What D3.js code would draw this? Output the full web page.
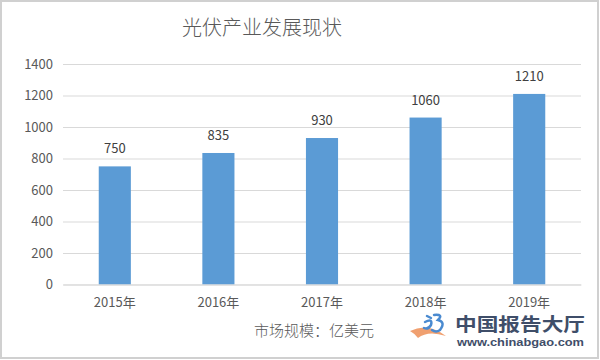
<!DOCTYPE html>
<html><head><meta charset="utf-8">
<script src="https://cdn.jsdelivr.net/npm/d3@7"></script>
<style>body{margin:0;background:#fff}svg{display:block}</style>
</head><body>
<svg id="c" width="600" height="360"></svg>
<script>
const categories = ["2015年","2016年","2017年","2018年","2019年"];
const values = [750, 835, 930, 1060, 1210];
const yTicks = [0,200,400,600,800,1000,1200,1400];
const title = "光伏产业发展现状";
const unitNote = "市场规模：亿美元";

const svg = d3.select("#c");
const font = "'Noto Sans CJK SC', 'Noto Sans', sans-serif";

svg.append("rect").attr("x",1).attr("y",1).attr("width",597).attr("height",357)
  .attr("fill","#fff").attr("stroke","#d0d0d0").attr("stroke-width",2);

const x = d3.scaleBand().domain(categories).range([63,581]).paddingInner(0.69).paddingOuter(0.345);
const y = d3.scaleLinear().domain([0,1400]).range([284.5,64]);

// grid
const yAxis = d3.axisLeft(y).tickValues(yTicks).tickFormat(d3.format("d")).tickSize(-(581-63)).tickPadding(10);
const gy = svg.append("g").attr("transform","translate(63,0)").call(yAxis);
gy.select(".domain").remove();
gy.selectAll(".tick line").attr("stroke","#d9d9d9").attr("stroke-width",1);
gy.selectAll(".tick text").attr("fill","#595959").attr("font-size",13).attr("font-family",font);

// bars
svg.append("g").selectAll("rect").data(values).join("rect")
  .attr("x",(d,i)=>x(categories[i])).attr("width",x.bandwidth())
  .attr("y",d=>y(d)).attr("height",d=>y(0)-y(d)).attr("fill","#5b9bd5");

// value labels
svg.append("g").selectAll("text").data(values).join("text")
  .attr("x",(d,i)=>x(categories[i])+x.bandwidth()/2).attr("y",d=>y(d)-13)
  .attr("text-anchor","middle").attr("fill","#404040").attr("font-size",13).attr("font-family",font)
  .text(d=>d);

// x axis
const xAxis = d3.axisBottom(x).tickSize(0).tickPadding(13);
const gx = svg.append("g").attr("transform","translate(0,284.5)").call(xAxis);
gx.select(".domain").attr("stroke","#d9d9d9");
gx.selectAll(".tick text").attr("fill","#595959").attr("font-size",13).attr("font-family",font);

// title
svg.append("text").attr("x",262).attr("y",35).attr("text-anchor","middle")
  .attr("fill","#595959").attr("font-size",20).attr("font-family",font).attr("font-weight",300).text(title);

// unit note
svg.append("text").attr("x",314).attr("y",336).attr("text-anchor","middle")
  .attr("fill","#595959").attr("font-size",15).attr("font-family",font).attr("font-weight",300).text(unitNote);

// watermark
const wm = svg.append("g");
wm.append("path").attr("d","M410,331 Q428,322 446,336 Q428,330 418,338 Q414,333 410,331Z").attr("fill","#f0a070");
wm.append("path").attr("d","M427,316 L431,318 M425,322 Q433,318 431,325 Q428,330 424,328 M434,315 Q444,314 438,320 Q446,322 440,330 Q436,333 432,330")
  .attr("fill","none").attr("stroke","#4a8ad0").attr("stroke-width",2.5).attr("stroke-linecap","round");
wm.append("text").attr("x",455).attr("y",331).attr("fill","#3f4e69").attr("font-size",18).attr("font-weight",700)
  .attr("font-family",font).attr("textLength",130).attr("lengthAdjust","spacingAndGlyphs").text("中国报告大厅");
wm.append("text").attr("x",457).attr("y",346).attr("fill","#3f4e69").attr("font-size",10).attr("font-weight",700)
  .attr("font-family","'Liberation Sans', Arial, sans-serif").attr("textLength",127).attr("lengthAdjust","spacingAndGlyphs").text("www.chinabgao.com");
</script>
</body></html>
